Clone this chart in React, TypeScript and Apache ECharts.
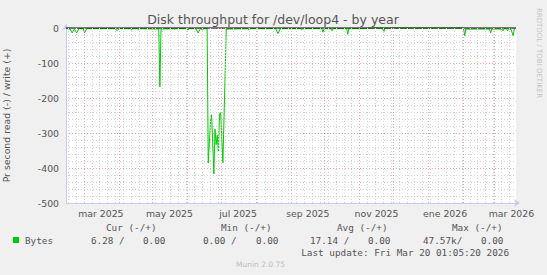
import { useEffect, useRef } from 'react';
import * as echarts from 'echarts';

const TITLE = 'Disk throughput for /dev/loop4 - by year';
const Y_AXIS_NAME = 'Pr second read (-) / write (+)';
const START = '2025-02-13T01:05:20Z';
const END = '2026-03-20T01:05:20Z';
const Y_MIN = -500;
const Y_MAX = 0;
const Y_STEP = 100;

// read series (negative side), daily vertices
const readDates = [
  '2025-02-13', '2025-02-16', '2025-02-18', '2025-02-20', '2025-02-22', '2025-02-24', '2025-02-28',
  '2025-03-01', '2025-03-03', '2025-03-28', '2025-03-30', '2025-04-01', '2025-04-11', '2025-04-12',
  '2025-04-13', '2025-04-17', '2025-04-18', '2025-04-19', '2025-05-06', '2025-05-07', '2025-05-08',
  '2025-05-19', '2025-05-20', '2025-05-21', '2025-05-31', '2025-06-01', '2025-06-02', '2025-06-08',
  '2025-06-10', '2025-06-12', '2025-06-14', '2025-06-15', '2025-06-18', '2025-06-19', '2025-06-21',
  '2025-06-22', '2025-06-24', '2025-06-25', '2025-06-26', '2025-06-27', '2025-06-28', '2025-06-29',
  '2025-06-30', '2025-07-02', '2025-07-05', '2025-07-24', '2025-07-25', '2025-07-26', '2025-08-18',
  '2025-08-20', '2025-08-22', '2025-09-09', '2025-09-10', '2025-09-11', '2025-09-28', '2025-09-29',
  '2025-09-30', '2025-10-06', '2025-10-07', '2025-10-08', '2025-10-20', '2025-10-21', '2025-10-22',
  '2025-11-07', '2025-11-08', '2025-11-21', '2025-11-22', '2025-11-23', '2026-01-31', '2026-02-01',
  '2026-02-02', '2026-02-03', '2026-02-24', '2026-02-25', '2026-02-26', '2026-03-07', '2026-03-08',
  '2026-03-09', '2026-03-11', '2026-03-12', '2026-03-13', '2026-03-15', '2026-03-17', '2026-03-18',
  '2026-03-19',
];
const readValues = [
  -2, -2, -14, -3, -14, -2, -2,
  -14, -2, -2, -7, -2, -2, -5,
  -2, -2, -5, -2, -3, -168, -3,
  -2, -4, -2, -2, -6, -2, -2,
  -14, -2, -5, -2, -2, -386, -268,
  -248, -417, -289, -333, -306, -353, -245,
  -242, -385, -3, -2, -5, -2, -2,
  -16, -2, -2, -5, -2, -2, -12,
  -2, -2, -8, -2, -2, -18, -2,
  -2, 0, 0, -12, 0, 0, -3,
  -22, -3, -3, -14, -3, -3, -8,
  -2, -2, -8, -2, -3, -22, -3,
  -2,
];
// write series is flat at zero over the whole period
const writeDates = [START, END];
const writeValues = [0, 0];

const labelMonths = ['2025-03', '2025-05', '2025-07', '2025-09', '2025-11', '2026-01', '2026-03'];
const labelTexts = ['mar 2025', 'may 2025', 'jul 2025', 'sep 2025', 'nov 2025', 'ene 2026', 'mar 2026'];

const legendHeaders = ['Cur (-/+)', 'Min (-/+)', 'Avg (-/+)', 'Max (-/+)'];
const legendName = 'Bytes';
const legendValues = ['6.28 /', '0.00', '0.00 /', '0.00', '17.14 /', '0.00', '47.57k/', '0.00'];
const lastUpdate = 'Last update: Fri Mar 20 01:05:20 2026';
const footer = 'Munin 2.0.75';
const watermark = 'RRDTOOL / TOBI OETIKER';

const GREEN = '#00cc00';
const TEXT = '#555555';
const AXIS = '#c6cdf5';
const SANS = '"DejaVu Sans", sans-serif';
const MONO = '"DejaVu Sans Mono", monospace';
const FS = 9.33;

export default function App() {
  const ref = useRef<HTMLDivElement>(null);
  useEffect(() => {
    document.body.style.margin = '0';
    const chart = echarts.init(ref.current!, undefined, { renderer: 'svg' });
    const tMin = Date.parse(START);
    const tMax = Date.parse(END);
    const DAY = 86400000;

    const monthStarts: number[] = [];
    for (let y = 2025, m = 2; ; ) {
      const t = Date.UTC(y, m, 1);
      if (t > tMax) break;
      if (t >= tMin) monthStarts.push(t);
      m++;
      if (m > 11) { m = 0; y++; }
    }
    const weeks: number[] = [];
    for (let t = Date.UTC(2025, 1, 15); t < tMax; t += 7 * DAY) {
      if (t > tMin && !monthStarts.includes(t)) weeks.push(t);
    }
    const labelValues = labelMonths.map((m) => Date.parse(m + '-16T00:00:00Z'));

    const readData = readDates.map((d, i) => [Date.parse(d + 'T12:00:00Z'), readValues[i]]);
    const writeData = writeDates.map((d, i) => [Date.parse(d), writeValues[i]]);

    const headerX = [106, 221, 337, 452];
    const valueX = [91, 143, 203, 256, 310, 368, 423, 481];
    const txt = (text: string, x: number, y: number, extra: any = {}) => ({
      type: 'text',
      x,
      y,
      silent: true,
      style: {
        text,
        fill: TEXT,
        fontSize: FS,
        fontFamily: MONO,
        align: 'left',
        textAlign: 'left',
        verticalAlign: 'middle',
        textVerticalAlign: 'middle',
        ...extra,
      },
    });

    const graphic: any[] = [
      txt(TITLE, 273, 19, { fontSize: 12.5, fontFamily: SANS, align: 'center', textAlign: 'center' }),
      {
        type: 'text',
        x: 539,
        y: 53,
        rotation: -Math.PI / 2,
        silent: true,
        style: {
          text: watermark,
          fill: '#c4c4c4',
          fontSize: 7,
          fontFamily: SANS,
          align: 'center',
          textAlign: 'center',
          verticalAlign: 'middle',
          textVerticalAlign: 'middle',
        },
      },
      ...legendHeaders.map((h, i) => txt(h, headerX[i], 227)),
      { type: 'rect', shape: { x: 13, y: 237, width: 6, height: 6 }, style: { fill: GREEN }, silent: true },
      txt(legendName, 25, 240),
      ...legendValues.map((v, i) => txt(v, valueX[i], 240)),
      txt(lastUpdate, 509, 252, { align: 'right', textAlign: 'right' }),
      txt(footer, 260.5, 264, { fontSize: 7.5, fontFamily: SANS, fill: '#bdbdbd', align: 'center', textAlign: 'center' }),
    ];

    chart.setOption({
      animation: false,
      backgroundColor: '#f0f0f0',
      grid: { left: 66, right: 31, top: 28, bottom: 72, show: true, backgroundColor: '#ffffff', borderWidth: 0, outerBoundsMode: 'none' },
      xAxis: {
        type: 'value',
        min: tMin,
        max: tMax,
        axisLine: { show: true, onZero: false, lineStyle: { color: AXIS, width: 1 }, symbol: ['none', 'arrow'], symbolSize: [6, 6], symbolOffset: [0, 4] },
        axisTick: { show: false },
        splitLine: { show: false },
        axisLabel: {
          customValues: labelValues,
          color: TEXT,
          fontSize: FS,
          fontFamily: SANS,
          margin: 6,
          hideOverlap: false,
          showMinLabel: true,
          showMaxLabel: true,
          formatter: (v: number) => {
            let best = 0;
            labelValues.forEach((lv, i) => { if (Math.abs(lv - v) < Math.abs(labelValues[best] - v)) best = i; });
            return labelTexts[best];
          },
        },
      },
      yAxis: {
        type: 'value',
        min: Y_MIN,
        max: Y_MAX,
        interval: Y_STEP,
        name: Y_AXIS_NAME,
        nameLocation: 'middle',
        nameGap: 55,
        nameTextStyle: { color: TEXT, fontSize: FS, fontFamily: SANS },
        axisLine: { show: true, onZero: false, lineStyle: { color: AXIS, width: 1 }, symbol: ['none', 'arrow'], symbolSize: [6, 6], symbolOffset: [0, 4] },
        axisTick: { show: false },
        axisLabel: { color: TEXT, fontSize: FS, fontFamily: SANS, margin: 7 },
        splitLine: { show: true, lineStyle: { color: '#f3a5a5', type: [1, 2], width: 1 } },
        minorTick: { show: false, splitNumber: 5 },
        minorSplitLine: { show: true, lineStyle: { color: '#d4d4d4', type: [1, 2], width: 1 } },
      },
      series: [
        {
          type: 'line',
          data: [],
          z: 1,
          silent: true,
          markLine: {
            silent: true,
            symbol: ['none', 'none'],
            label: { show: false },
            lineStyle: { color: '#d4d4d4', type: [1, 2], width: 1 },
            data: weeks.map((t) => ({ xAxis: t })),
          },
        },
        {
          type: 'line',
          data: [],
          z: 1,
          silent: true,
          markLine: {
            silent: true,
            symbol: ['none', 'none'],
            label: { show: false },
            lineStyle: { color: '#f3a5a5', type: [1, 2], width: 1 },
            data: monthStarts.map((t) => ({ xAxis: t })),
          },
        },
        {
          name: 'read',
          type: 'line',
          data: readData,
          showSymbol: false,
          clip: false,
          z: 3,
          lineStyle: { color: GREEN, width: 1 },
          itemStyle: { color: GREEN },
        },
        {
          name: 'write',
          type: 'line',
          data: writeData,
          showSymbol: false,
          clip: false,
          z: 4,
          lineStyle: { color: '#000000', width: 1 },
          itemStyle: { color: '#000000' },
        },
      ],
      graphic,
    });
    return () => chart.dispose();
  }, []);
  return <div ref={ref} style={{ width: 547, height: 275 }} />;
}
